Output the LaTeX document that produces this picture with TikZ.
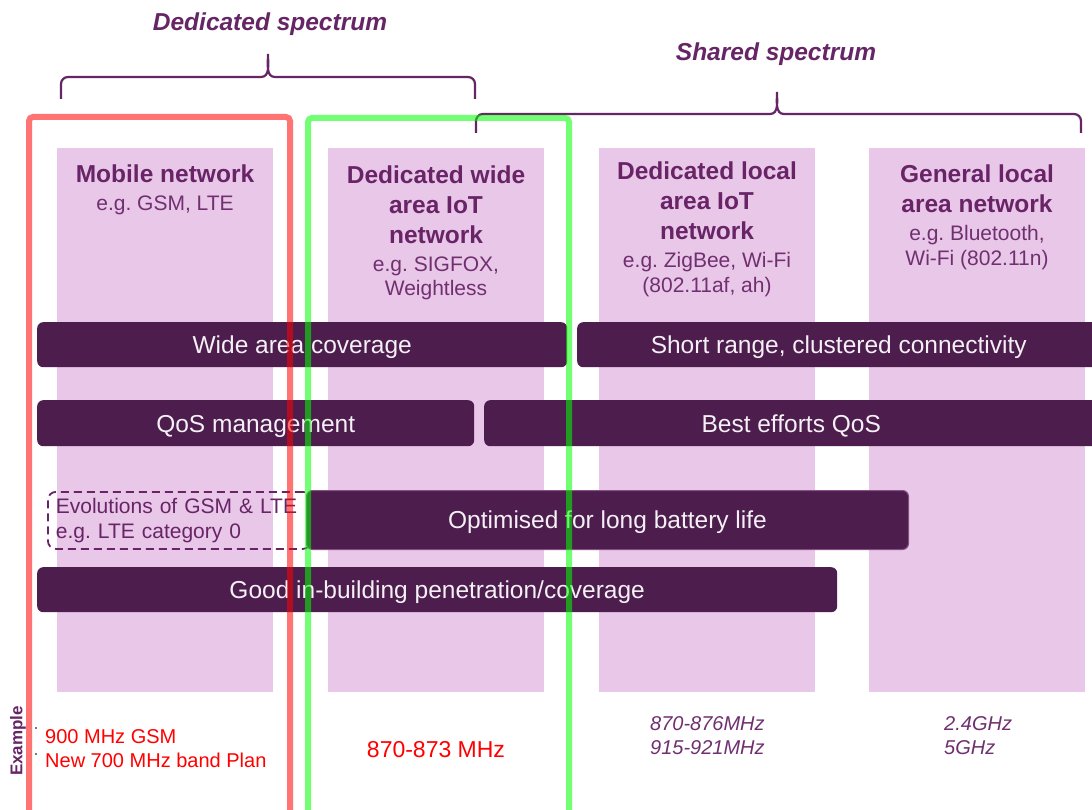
\documentclass[tikz,border=0pt]{standalone}
\usepackage{fontspec}
\setmainfont{Liberation Sans}
\usetikzlibrary{positioning}
\frenchspacing

\definecolor{colpink}{RGB}{233,199,232}
\definecolor{barpurple}{RGB}{76,29,77}
\definecolor{headpurple}{RGB}{104,36,102}
\definecolor{subpurple}{RGB}{112,48,112}
\definecolor{bracepurple}{RGB}{102,38,102}
\definecolor{bartext}{RGB}{245,240,245}

\tikzset{
    column/.style = {fill=colpink, minimum width=216pt, minimum height=544pt, anchor=north west, inner sep=0pt},
    headtext/.style = {text=headpurple, align=center, anchor=north, inner sep=0pt, font=\fontsize{24.5}{30}\selectfont\bfseries},
    subtext/.style = {text=subpurple, align=center, anchor=north, inner sep=0pt, font=\fontsize{21}{24.5}\selectfont},
    bar/.style = {fill=barpurple, text=bartext, rounded corners=6pt, minimum height=45pt, anchor=north west, inner sep=0pt, text height=22.5pt, text depth=4.9pt, font=\fontsize{24.5}{29}\selectfont},
    evolution/.style = {draw=headpurple, dashed, dash pattern=on 8pt off 5pt, line width=1.8pt, rounded corners=8pt, anchor=north west, minimum height=57pt, text width=247pt, inner xsep=8pt, inner ysep=0pt, align=left, text=headpurple, font=\fontsize{21}{25}\selectfont},
    frame/.style = {line width=6pt, rounded corners=4pt, draw opacity=.55},
    spectrum/.style = {text=bracepurple, anchor=base, font=\fontsize{24.5}{29}\selectfont\bfseries\itshape},
    bracket/.style = {draw=bracepurple, line width=2.2pt},
    band/.style = {inner sep=0pt, font=\fontsize{20}{24}\selectfont}
}

\begin{document}
\begin{tikzpicture}[x = 1pt, y = -1pt]
        \useasboundingbox (0,0) rectangle (1092,810);
        \clip (0,0) rectangle (1092,810);
        \fill [white] (0,0) rectangle (1092,810);

        \node [spectrum] (dedicated) at (270,31) {Dedicated spectrum};
        \node [spectrum] (shared) at (776,61) {Shared spectrum};
        \draw [bracket] (61,99) -- (61,84) to[out=90,in=180] (68,77) -- (261,77) to[out=0,in=-90] (268,54)
            to[out=-90,in=180] (275,77) -- (468,77) to[out=0,in=90] (475,84) -- (475,99);
        \draw [bracket] (476,133) -- (476,121) to[out=90,in=180] (483,114) -- (770,114) to[out=0,in=-90] (777,92)
            to[out=-90,in=180] (784,114) -- (1074,114) to[out=0,in=90] (1081,121) -- (1081,133);

        \node [column] (mobile) at (57,148) {};
        \node [column] (wide iot) at (328,148) {};
        \node [column] (local iot) at (599,148) {};
        \node [column] (general) at (869,148) {};

        \node [headtext] (mobile title) at (165,165) {Mobile network};
        \node [subtext, below = 12pt of mobile title] (mobile sub) {e.g. GSM, LTE};
        \node [headtext] (wide title) at (436,166) {Dedicated wide\\area IoT\\network};
        \node [subtext, below = 12pt of wide title] (wide sub) {e.g. SIGFOX,\\Weightless};
        \node [headtext] (local title) at (707,162) {Dedicated local\\area IoT\\network};
        \node [subtext, below = 12pt of local title] (local sub) {e.g. ZigBee, Wi-Fi\\(802.11af, ah)};
        \node [headtext] (general title) at (977,165) {General local\\area network};
        \node [subtext, below = 12pt of general title] (general sub) {e.g. Bluetooth,\\Wi-Fi (802.11n)};

        \node [bar, minimum width=530pt] (coverage) at (37,322) {Wide area coverage};
        \node [bar, minimum width=523pt] (short range) at (577,322) {Short range, clustered connectivity};
        \node [bar, minimum width=437pt, minimum height=46pt] (qos) at (37,400) {QoS management};
        \node [bar, minimum width=614pt, minimum height=46pt] (best effort) at (484,400) {Best efforts QoS};
        \node [evolution] (evolutions) at (47,491) {Evolutions of GSM \& LTE\\e.g. LTE category 0};
        \node [bar, draw=headpurple!80, line width=1pt, minimum width=602pt, minimum height=59pt] (battery) at (306,490) {Optimised for long battery life};
        \node [bar, minimum width=800pt] (in building) at (37,567) {Good in-building penetration/coverage};

        \node [rotate = 90, text=bracepurple, font=\fontsize{17}{20}\selectfont\bfseries] (example) at (18,741) {Example};
        \fill [black!70] (36,728) circle (1.2pt);
        \fill [black!70] (36,754) circle (1.2pt);
        \node [band, text=red, anchor=base west] (gsm band) at (45,743) {900 MHz GSM};
        \node [band, text=red, anchor=base west] (plan band) at (45,767) {New 700 MHz band Plan};
        \node [band, text=red, anchor=base, font=\fontsize{23}{27}\selectfont] (sigfox band) at (436,757) {870-873 MHz};
        \node [band, text=subpurple, align=left, anchor=north west, font=\fontsize{20}{24}\selectfont\itshape] (zigbee band) at (650,716.7) {870-876MHz\\915-921MHz};
        \node [band, text=subpurple, align=left, anchor=north west, font=\fontsize{20}{24}\selectfont\itshape] (wifi band) at (944,716.7) {2.4GHz\\5GHz};

        \draw [frame, draw=red] (29,117) rectangle (290,830);
        \draw [frame, draw=green] (308,118) rectangle (569,830);
    \end{tikzpicture}
\end{document}
